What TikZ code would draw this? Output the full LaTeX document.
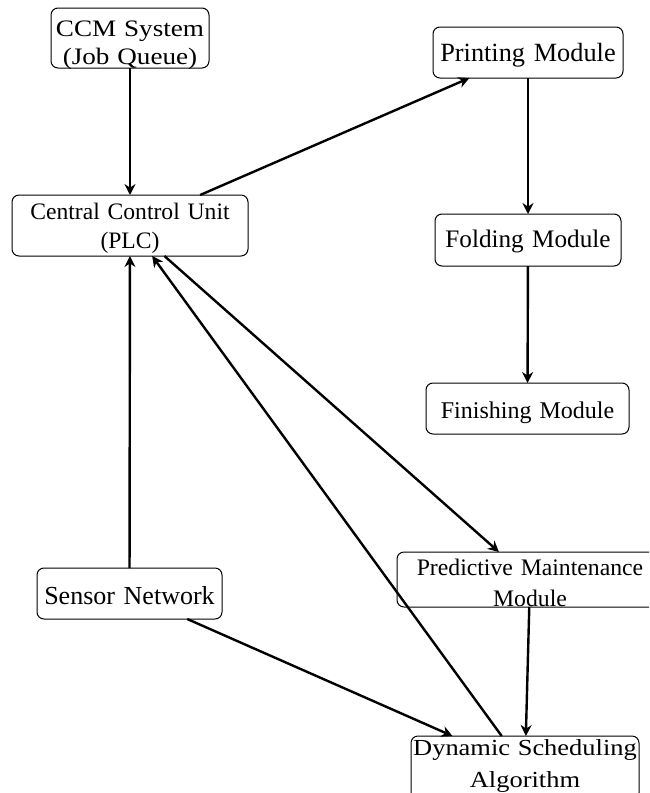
\documentclass[tikz,border=0pt]{standalone}
\usepackage{fontspec}
\setmainfont{Liberation Serif}
\newfontfamily\widefont[FakeStretch=1.15]{Liberation Serif}
\usepackage{tikz}
\usetikzlibrary{arrows.meta}

\tikzset{
  module/.style={draw, rounded corners=3.5pt, line width=0.5pt, inner sep=0pt, outer sep=0pt, align=center},
  flow/.style={-{Stealth[length=5.5pt, width=5.5pt, inset=1.8pt]}, line width=1.2pt}
}
\newcommand{\fsz}[2]{\fontsize{#1}{#2}\selectfont}

\begin{document}
\begin{tikzpicture}[x=0.5pt, y=-0.5pt]
    \useasboundingbox (0,0) rectangle (649,793);
    \clip (0,0) rectangle (649,793);

    % Left column
    \node[module, font={\widefont\fsz{11.8}{14}}, text width=79pt, text height=14pt, text depth=16pt] (ccm) at (130,38) {CCM System\\(Job Queue)};
    \node[module, font={\fsz{11.8}{14.5}}, text width=118pt, text height=12pt, text depth=18.5pt] (plc) at (130,225.5) {Central Control Unit\\(PLC)};
    \node[module, font={\fsz{13}{15}}, text width=92.5pt, text height=18pt, text depth=7.5pt] (sensor) at (129.5,593.5) {Sensor Network};

    % Right column
    \node[module, font={\fsz{13.15}{15}}, text width=95pt, text height=17pt, text depth=8.5pt] (print) at (528,52.5) {Printing Module};
    \node[module, font={\fsz{12.6}{15}}, text width=93pt, text height=16.5pt, text depth=9.5pt] (fold) at (528,240) {Folding Module};
    \node[module, font={\fsz{12}{15}}, text width=101.5pt, text height=17.5pt, text depth=8pt] (finish) at (527.5,408.5) {Finishing Module};
    \node[module, font={\fsz{11.85}{15.5}}, text width=133pt, text height=11.5pt, text depth=16pt] (maint) at (530,579.5) {Predictive Maintenance\\Module};
    \node[module, font={\widefont\fsz{11.5}{16}}, text width=114pt, text height=9.5pt, text depth=22.5pt] (sched) at (525,768) {Dynamic Scheduling\\Algorithm};

    % Connectors
    \draw[flow] (ccm) -- (plc);
    \draw[flow] (plc) -- (print);
    \draw[flow] (print) -- (fold);
    \draw[flow] (fold) -- (finish);
    \draw[flow] (plc) -- (maint);
    \draw[flow] (sensor) -- (plc);
    \draw[flow] (sensor) -- (sched);
    \draw[flow] (maint) -- (sched);
    \draw[flow] (sched) -- (plc);
\end{tikzpicture}
\end{document}
